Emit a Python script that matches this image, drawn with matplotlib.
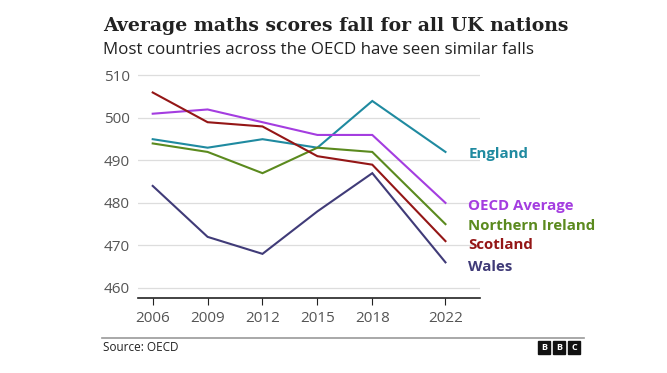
import matplotlib
matplotlib.use('Agg')
import matplotlib.pyplot as plt
from matplotlib.patches import Rectangle

# data
years = [2006, 2009, 2012, 2015, 2018, 2022]
england = [495, 493, 495, 493, 504, 492]
oecd = [501, 502, 499, 496, 496, 480]
n_ireland = [494, 492, 487, 493, 492, 475]
scotland = [506, 499, 498, 491, 489, 471]
wales = [484, 472, 468, 478, 487, 466]

names = ['England', 'OECD Average', 'Northern Ireland', 'Scotland', 'Wales']
series = [england, oecd, n_ireland, scotland, wales]
colors = ['#1f8aa0', '#a43de0', '#5b8a1e', '#941616', '#403b78']
# label positions (data y) for the right-hand labels
label_y = [491.5, 479.2, 474.5, 470.2, 465.0]

fig = plt.figure(figsize=(6.67, 3.73), dpi=100)
ax = fig.add_axes([0.207, 0.201, 0.513, 0.608])

for vals, c in zip(series, colors):
    ax.plot(years, vals, color=c, lw=1.5, solid_joinstyle='miter')

for name, ly, c in zip(names, label_y, colors):
    ax.text(2023.25, ly, name, color=c, fontsize=10.8, fontweight='bold',
            va='center', ha='left', family='Open Sans', clip_on=False)

ax.set_xlim(2005.2, 2023.9)
ax.set_ylim(457.6, 511)
ax.set_yticks([460, 470, 480, 490, 500, 510])
ax.set_xticks(years)
ax.grid(axis='y', color='#dddddd', lw=0.9)
ax.set_axisbelow(True)
for s in ['top', 'right', 'left']:
    ax.spines[s].set_visible(False)
ax.spines['bottom'].set_color('#222222')
ax.spines['bottom'].set_linewidth(1.2)
ax.tick_params(axis='y', length=0, labelsize=11, labelcolor='#555555', pad=6)
ax.tick_params(axis='x', length=5, color='#222222', labelsize=11,
               labelcolor='#555555', pad=4)
for lab in ax.get_xticklabels() + ax.get_yticklabels():
    lab.set_family('Open Sans')

fig.text(0.154, 0.93, 'Average maths scores fall for all UK nations',
         fontsize=13.6, fontweight='bold', family='DejaVu Serif', color='#222222',
         va='center')
fig.text(0.154, 0.866, 'Most countries across the OECD have seen similar falls',
         fontsize=12.2, family='Open Sans', color='#222222', va='center')

# footer rule and source
fig.add_artist(plt.Line2D([0.153, 0.875], [0.093, 0.093], color='#999999', lw=1.2))
fig.text(0.154, 0.068, 'Source: OECD', fontsize=8.5, family='Open Sans',
         color='#222222', va='center')

# BBC blocks
for i, letter in enumerate('BBC'):
    x0 = 0.806 + i * 0.0225
    fig.add_artist(Rectangle((x0, 0.05), 0.019, 0.036, color='#111111',
                             transform=fig.transFigure))
    fig.text(x0 + 0.0095, 0.068, letter, color='white', fontsize=6.5,
             fontweight='bold', ha='center', va='center', family='Open Sans')

fig.savefig('out.png', dpi=100)
